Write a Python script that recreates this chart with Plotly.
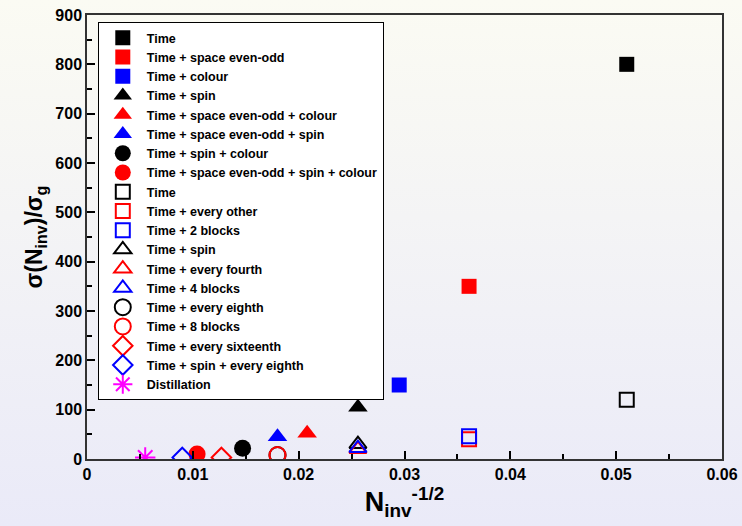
import base64
import plotly.graph_objects as go

# ---- data ----
names = [
    "Time", "Time + space even-odd", "Time + colour", "Time + spin",
    "Time + space even-odd + colour", "Time + space even-odd + spin",
    "Time + spin + colour", "Time + space even-odd + spin + colour",
    "Time", "Time + every other", "Time + 2 blocks", "Time + spin",
    "Time + every fourth", "Time + 4 blocks", "Time + every eighth",
    "Time + 8 blocks", "Time + every sixteenth", "Time + spin + every eighth",
    "Distillation",
]
x_vals = [0.0510, 0.0361, 0.0295, 0.0256, 0.0208, 0.0180, 0.0147, 0.0104,
          0.0510, 0.0361, 0.0361, 0.0256, 0.0256, 0.0256, 0.0180, 0.0180,
          0.0127, 0.0090, 0.0055]
y_vals = [800, 350, 150, 105, 52, 45, 22, 10,
          120, 40, 46, 30, 20, 22, 8, 8,
          3, 3, 3]
symbols = ["square", "square", "square", "triangle-up", "triangle-up", "triangle-up",
           "circle", "circle",
           "square-open", "square-open", "square-open", "triangle-up-open",
           "triangle-up-open", "triangle-up-open", "circle-open", "circle-open",
           "diamond-open", "diamond-open", "asterisk-open"]
colors = ["black", "red", "blue", "black", "red", "blue", "black", "red",
          "black", "red", "blue", "black", "red", "blue", "black", "red",
          "red", "blue", "magenta"]
sizes = [15, 15, 15, 17, 17, 17, 17, 17,
         14, 14, 14, 15, 15, 15, 16, 16,
         15, 15, 17]

fig = go.Figure()
for n, xv, yv, s, c, sz in zip(names, x_vals, y_vals, symbols, colors, sizes):
    is_open = s.endswith("open")
    fig.add_trace(go.Scatter(
        x=[xv], y=[yv], mode="markers", name=n,
        marker=dict(symbol=s, size=sz, color=c,
                    line=dict(color=c, width=2 if is_open else 0)),
    ))

svg = ('<svg xmlns="http://www.w3.org/2000/svg" width="10" height="100" preserveAspectRatio="none">'
       '<defs><linearGradient id="g" x1="0" y1="0" x2="0" y2="1">'
       '<stop offset="0" stop-color="#fbfbf3"/><stop offset="1" stop-color="#eaeaf8"/>'
       '</linearGradient></defs><rect width="10" height="100" fill="url(#g)"/></svg>')
src = "data:image/svg+xml;base64," + base64.b64encode(svg.encode()).decode()

W, H = 742, 526
L, R, T, B = 87, 20, 15, 67
pw, ph = W - L - R, H - T - B

font = dict(family="Liberation Sans, Arial, sans-serif", color="black", weight="bold")

fig.update_layout(
    width=W, height=H,
    margin=dict(l=L, r=R, t=T, b=B, autoexpand=False),
    paper_bgcolor="rgba(0,0,0,0)", plot_bgcolor="rgba(0,0,0,0)",
    font=font,
    images=[dict(source=src, xref="paper", yref="paper",
                 x=-L / pw, y=1 + T / ph, sizex=W / pw, sizey=H / ph,
                 sizing="stretch", layer="below", xanchor="left", yanchor="top")],
    showlegend=True,
    legend=dict(x=0.017, y=0.984, xanchor="left", yanchor="top",
                bgcolor="white", bordercolor="black", borderwidth=1,
                font=dict(size=12.5, family="Liberation Sans, Arial, sans-serif", weight="bold"),
                tracegroupgap=0, itemwidth=38),
    xaxis=dict(range=[0, 0.06], tickvals=[0, 0.01, 0.02, 0.03, 0.04, 0.05, 0.06],
               ticktext=["0", "0.01", "0.02", "0.03", "0.04", "0.05", "0.06"],
               ticks="inside", ticklen=8, tickwidth=1.5, tickcolor="black",
               minor=dict(dtick=0.005, ticks="inside", ticklen=5, tickcolor="black", tickwidth=1.5),
               showline=True, linecolor="#333", linewidth=1.5, mirror=True,
               showgrid=False, zeroline=False, automargin=False,
               tickfont=dict(size=16, weight="bold"),
               title=dict(text="N<sub>inv</sub><sup>-1/2</sup>", font=dict(size=27, weight="bold"), standoff=4)),
    yaxis=dict(range=[0, 900], tickvals=list(range(0, 901, 100)),
               ticks="inside", ticklen=8, tickwidth=1.5, tickcolor="black",
               minor=dict(dtick=50, ticks="inside", ticklen=5, tickcolor="black", tickwidth=1.5),
               showline=True, linecolor="#333", linewidth=1.5, mirror=True,
               showgrid=False, zeroline=False, automargin=False,
               tickfont=dict(size=16, weight="bold"),
               title=dict(text="σ(N<sub>inv</sub>)/σ<sub>g</sub>", font=dict(size=23, weight="bold"), standoff=6)),
)

fig.write_html("out.html", config={"displayModeBar": False},
               post_script="document.body.style.margin='0';")
